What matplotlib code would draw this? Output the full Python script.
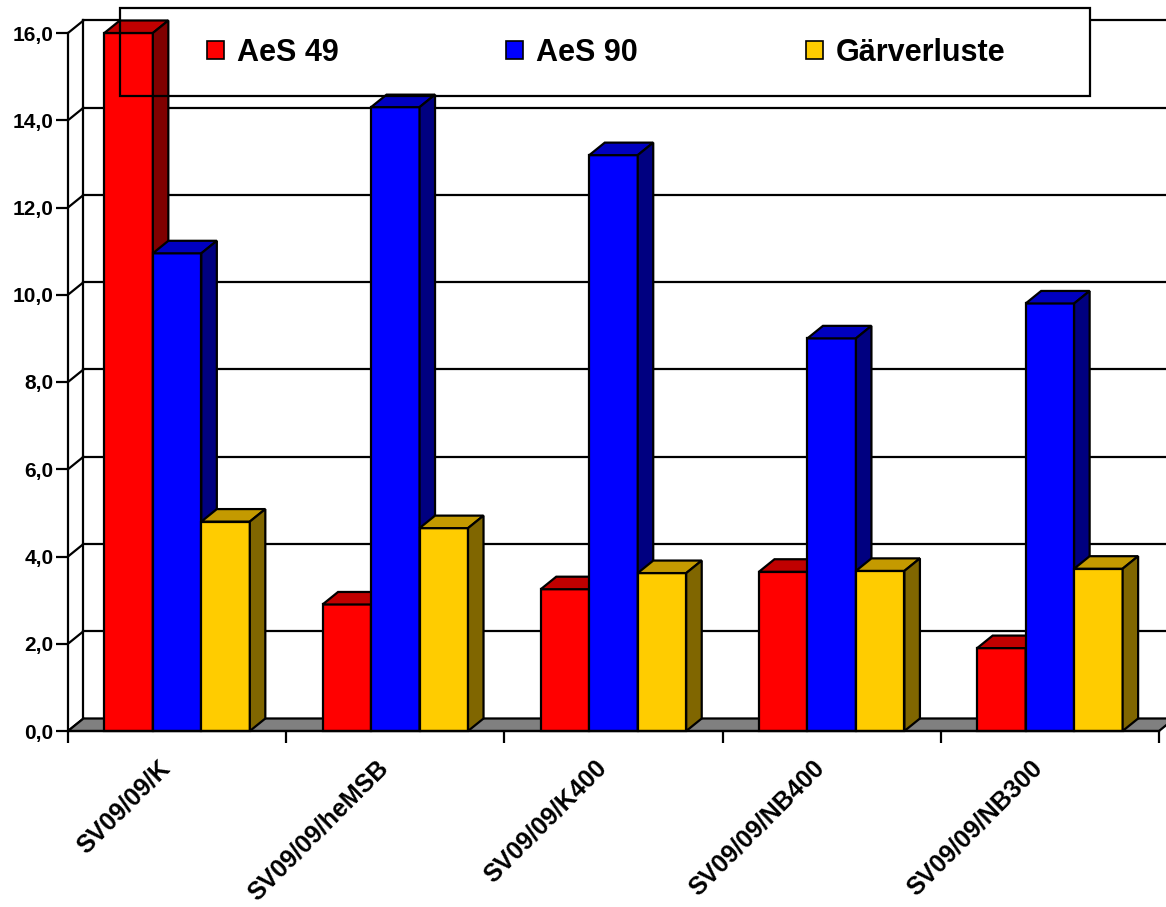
import numpy as np
import matplotlib
matplotlib.use("Agg")
import matplotlib.pyplot as plt
import matplotlib.transforms as mtransforms
from matplotlib.patches import Polygon, Rectangle, Patch
from matplotlib.ticker import FixedLocator, FuncFormatter, NullFormatter

plt.rcParams['font.family'] = ['Liberation Sans', 'DejaVu Sans']
plt.rcParams['font.weight'] = 'bold'

# Messwerte je Probe
categories = ["SV09/09/K", "SV09/09/heMSB", "SV09/09/K400", "SV09/09/NB400", "SV09/09/NB300"]
series_names = ["AeS 49", "AeS 90", "Gärverluste"]
aes49 = [16.0, 2.9, 3.25, 3.65, 1.9]
aes90 = [10.95, 14.3, 13.2, 9.0, 9.8]
gaerverluste = [4.8, 4.65, 3.62, 3.67, 3.72]
y_ticks = [0, 2, 4, 6, 8, 10, 12, 14, 16]

front_colors = ['#FF0000', '#0000FF', '#FFCC00']
top_colors = ['#C00000', '#0000C0', '#C49A00']
side_colors = ['#800000', '#000080', '#806600']

LW = 1.6
n = len(categories)
bar_w = 1 / 4.5                 # Abstand 150 % der Säulenbreite
gap = (1 - 3 * bar_w) / 2
DX, DY = 0.071, 0.287           # Tiefenversatz (Kategorie- bzw. Werteinheiten)

fig = plt.figure(figsize=(11.66, 9.07), dpi=100)
ax = fig.add_axes([68 / 1166, 176 / 907, 1091 / 1166, 698 / 907])
ax.set_xlim(0, n)
ax.set_ylim(0, y_ticks[-1])

# Rückwand, linke Seitenwand und Gitterlinien
ax.plot([DX, DX], [DY, y_ticks[-1] + DY], color='black', lw=LW, clip_on=False, zorder=1)
for v in y_ticks:
    ax.plot([0, DX], [v, v + DY], color='black', lw=LW, clip_on=False, zorder=1)
    if v > 0:
        ax.plot([DX, n + DX], [v + DY, v + DY], color='black', lw=LW,
                clip_on=False, zorder=1)

# Boden
floor = Polygon([(0, 0), (n, 0), (n + DX, DY), (DX, DY)], closed=True,
                facecolor='#808080', edgecolor='black', lw=LW, clip_on=False, zorder=2)
ax.add_patch(floor)

# Legendenhintergrund (hinter den Säulen)
box = (120 / 1166, 1 - 96 / 907, 970 / 1166, 88 / 907)
ax.add_patch(Rectangle(box[:2], box[2], box[3], transform=fig.transFigure,
                       facecolor='white', edgecolor='none', clip_on=False, zorder=1.5))

# 3D-Säulen: Vorderseite, Deckfläche, Seitenfläche
for j, vals in enumerate([aes49, aes90, gaerverluste]):
    xs = np.arange(n) + gap + j * bar_w
    bars = ax.bar(xs, vals, width=bar_w, align='edge', color=front_colors[j],
                  edgecolor='black', lw=LW, zorder=3 + j, clip_on=False)
    for b in bars:
        x0 = b.get_x()
        x1 = x0 + b.get_width()
        h = b.get_height()
        top = Polygon([(x0, h), (x1, h), (x1 + DX, h + DY), (x0 + DX, h + DY)],
                      closed=True, facecolor=top_colors[j], edgecolor='black',
                      lw=LW, joinstyle='miter', clip_on=False, zorder=3 + j)
        side = Polygon([(x1, 0), (x1 + DX, DY), (x1 + DX, h + DY), (x1, h)],
                       closed=True, facecolor=side_colors[j], edgecolor='black',
                       lw=LW, joinstyle='miter', clip_on=False, zorder=3 + j)
        ax.add_patch(top)
        ax.add_patch(side)

# Achsen
for s in ['top', 'right']:
    ax.spines[s].set_visible(False)
for s in ['left', 'bottom']:
    ax.spines[s].set_linewidth(LW)
    ax.spines[s].set_zorder(10)

ax.set_yticks(y_ticks)
ax.yaxis.set_major_formatter(FuncFormatter(lambda v, p: f"{v:.1f}".replace('.', ',')))
ax.tick_params(axis='y', direction='out', length=8.6, width=LW, labelsize=15, pad=2)

ax.xaxis.set_major_locator(FixedLocator(np.arange(n + 1)))
ax.xaxis.set_major_formatter(NullFormatter())
ax.xaxis.set_minor_locator(FixedLocator(np.arange(n) + 0.5))
ax.set_xticklabels(categories, minor=True)
ax.tick_params(axis='x', which='major', direction='out', length=8.6, width=LW)
ax.tick_params(axis='x', which='minor', length=0, labelsize=18, pad=24)
shift = mtransforms.ScaledTranslation(-11 / 100, 0, fig.dpi_scale_trans)
for lbl in ax.get_xticklabels(minor=True):
    lbl.set_rotation(45)
    lbl.set_ha('right')
    lbl.set_va('center')
    lbl.set_rotation_mode('anchor')
    lbl.set_transform(lbl.get_transform() + shift)

# Legende
handles = [Patch(facecolor=c, edgecolor='black', lw=1.2) for c in front_colors]
leg = ax.legend(handles, series_names, ncol=3, frameon=False, loc='center',
                bbox_to_anchor=(606 / 1166, 1 - 53 / 907), bbox_transform=fig.transFigure,
                prop={'size': 22, 'weight': 'bold'}, handlelength=0.55, handleheight=0.55,
                handletextpad=0.42, columnspacing=5.5)
leg.set_zorder(20)
ax.add_patch(Rectangle(box[:2], box[2], box[3], transform=fig.transFigure,
                       facecolor='none', edgecolor='black', lw=LW, clip_on=False, zorder=20))

fig.savefig("out.png", dpi=100, facecolor='white')
